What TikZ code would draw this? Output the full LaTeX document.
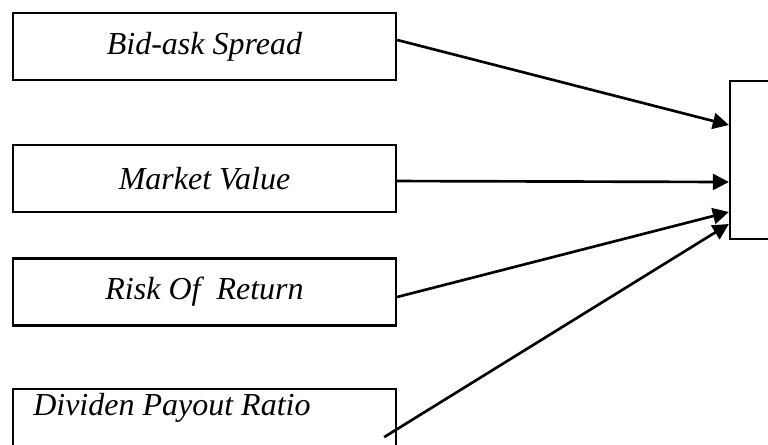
\documentclass[tikz,border=0pt]{standalone}
\usepackage{fontspec}
\setmainfont{Liberation Serif}
\usetikzlibrary{arrows.meta,positioning}

\begin{document}
\begin{tikzpicture}[x=0.75pt,y=-0.75pt]
\tikzstyle{box} = [draw,line width=1.7pt,minimum width=287.25pt,minimum height=50.25pt,inner sep=0pt,font=\fontsize{24}{28}\selectfont\itshape]
\tikzstyle{arrow} = [line width=2pt,-{Triangle[length=12pt,width=12pt]}]
\useasboundingbox (0,0) rectangle (768,444);

\node[box] (b1) at (204.5,46.5) {Bid-ask Spread};
\node[box] (b2) at (204.5,178.5) {Market Value};
\node[box] (b3) at (204.5,292) {Risk Of\ \ Return};
\node[box] (b4) at (204.5,422.5) {};
\node[anchor=base west,inner sep=0pt,font=\fontsize{24}{28}\selectfont\itshape] (t4) at (33,415) {Dividen Payout Ratio};

\node[box,minimum width=60pt,minimum height=118.5pt] (out) at (770,160) {};

\draw [arrow] ([yshift=4.9pt]b1.east) -- ([yshift=26.25pt]out.west);
\draw [arrow] ([yshift=-1.9pt]b2.east) -- ([yshift=-16.5pt]out.west);
\draw [arrow] ([yshift=-3.75pt]b3.east) -- ([yshift=-39pt]out.west);
\draw [arrow] ([xshift=-9.75pt,yshift=15pt]b4.south east) -- ([yshift=-48pt]out.west);
\end{tikzpicture}
\end{document}
